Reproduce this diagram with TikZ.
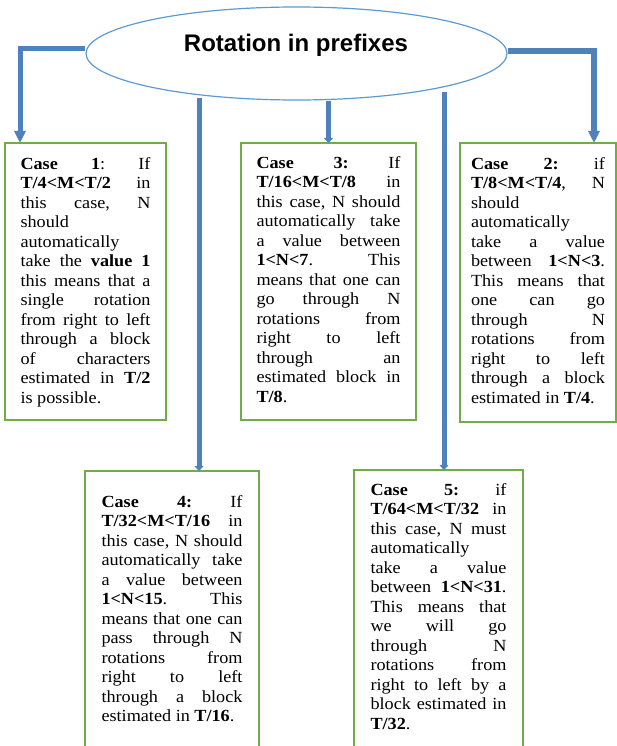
\documentclass[tikz,border=0pt]{standalone}
\usepackage{fontspec}
\setmainfont{Liberation Serif}[FakeStretch=1.07]
\newfontfamily\titlefont{Liberation Sans}
\usetikzlibrary{shapes.geometric,arrows.meta}
\definecolor{conncol}{HTML}{4F81BD}
\definecolor{ellcol}{HTML}{5B9BD5}
\definecolor{boxcol}{HTML}{70AD47}
\newcommand\RowJ[1]{\hbox to\linewidth{#1}}
\newcommand\RowL[1]{\hbox to\linewidth{#1\hfil}}
\newcommand\BoxText[4]{\parbox[c][#1][t]{#2}{\fontsize{17}{19.5}\selectfont\frenchspacing\vspace*{#3}#4}}
\tikzset{
  casebox/.style={draw=boxcol, line width=1.3pt, inner ysep=0pt, outer sep=0pt, anchor=north west},
  conn/.style={draw=conncol, line width=5pt},
  tipbig/.style={-{Triangle[length=12pt,width=11pt]}},
  tipsmall/.style={-{Triangle[length=5pt,width=9pt]}},
  titleell/.style={draw=ellcol, line width=1.2pt, ellipse, inner sep=0pt, fill=white},
  titletext/.style={font={\titlefont\fontsize{24}{28}\selectfont\bfseries}, inner sep=0pt, anchor=base}
}
\begin{document}
\begin{tikzpicture}[x=1pt,y=-1pt]
\useasboundingbox (0,0) rectangle (617,746);
\fill[white] (0,0) rectangle (617,746);
\clip (0,0) rectangle (617,746);

\node[titleell, minimum width=421pt, minimum height=93pt] (title) at (296.5,53.5) {};
\node[titletext] (tt) at (296,52) {Rotation in prefixes};

\node[casebox, minimum width=161pt, minimum height=277pt, inner xsep=15.5pt] (c1) at (5,143)
{\BoxText{277pt}{130pt}{14.4pt}{%
\RowJ{\textbf{Case 1}: If}
\RowJ{\textbf{T/4<M<T/2} in}
\RowJ{this case, N}
\RowL{should}
\RowL{automatically}
\RowJ{take the \textbf{value 1}}
\RowJ{this means that a}
\RowJ{single rotation}
\RowJ{from right to left}
\RowJ{through a block}
\RowJ{of characters}
\RowJ{estimated in \textbf{T/2}}
\RowL{is possible.}}};

\node[casebox, minimum width=175pt, minimum height=277pt, inner xsep=15.5pt] (c3) at (241,143)
{\BoxText{277pt}{144pt}{13.4pt}{%
\RowJ{\textbf{Case 3:} If}
\RowJ{\textbf{T/16<M<T/8} in}
\RowJ{this case, N should}
\RowJ{automatically take}
\RowJ{a value between}
\RowJ{\textbf{1<N<7}. This}
\RowJ{means that one can}
\RowJ{go through N}
\RowJ{rotations from}
\RowJ{right to left}
\RowJ{through an}
\RowJ{estimated block in}
\RowL{\textbf{T/8}.}}};

\node[casebox, minimum width=156pt, minimum height=279pt, inner xsep=11pt] (c2) at (460,143)
{\BoxText{279pt}{134pt}{14.4pt}{%
\RowJ{\textbf{Case 2:} if}
\RowJ{\textbf{T/8<M<T/4}, N}
\RowL{should}
\RowL{automatically}
\RowJ{take a value}
\RowJ{between \textbf{1<N<3}.}
\RowJ{This means that}
\RowJ{one can go}
\RowJ{through N}
\RowJ{rotations from}
\RowJ{right to left}
\RowJ{through a block}
\RowL{estimated in \textbf{T/4}.}}};

\node[casebox, minimum width=174pt, minimum height=289pt, inner xsep=16.5pt] (c4) at (85,471)
{\BoxText{289pt}{141pt}{24.4pt}{%
\RowJ{\textbf{Case 4:} If}
\RowJ{\textbf{T/32<M<T/16} in}
\RowJ{this case, N should}
\RowJ{automatically take}
\RowJ{a value between}
\RowJ{\textbf{1<N<15}. This}
\RowJ{means that one can}
\RowJ{pass through N}
\RowJ{rotations from}
\RowJ{right to left}
\RowJ{through a block}
\RowL{estimated in \textbf{T/16}.}}};

\node[casebox, minimum width=169pt, minimum height=290pt, inner xsep=16.5pt] (c5) at (354,470)
{\BoxText{290pt}{136pt}{13.4pt}{%
\RowJ{\textbf{Case 5:} if}
\RowJ{\textbf{T/64<M<T/32} in}
\RowJ{this case, N must}
\RowL{automatically}
\RowJ{take a value}
\RowJ{between \textbf{1<N<31}.}
\RowJ{This means that}
\RowJ{we will go}
\RowJ{through N}
\RowJ{rotations from}
\RowJ{right to left by a}
\RowJ{block estimated in}
\RowL{\textbf{T/32}.}}};

\coordinate (s4) at (199,98);
\coordinate (s5) at (444,92);

\draw[conn, tipbig] ([yshift=5pt]title.west) -| ([xshift=15pt]c1.north west);
\draw[conn, line width=6pt, tipbig] ([yshift=2pt]title.east) -| ([xshift=-22pt]c2.north east);
\draw[conn, tipsmall] (c3.north |- title.south) -- (c3.north);
\draw[conn, tipsmall] (s4) -- (s4 |- c4.north);
\draw[conn, tipsmall] (s5) -- (s5 |- c5.north);
\end{tikzpicture}
\end{document}
